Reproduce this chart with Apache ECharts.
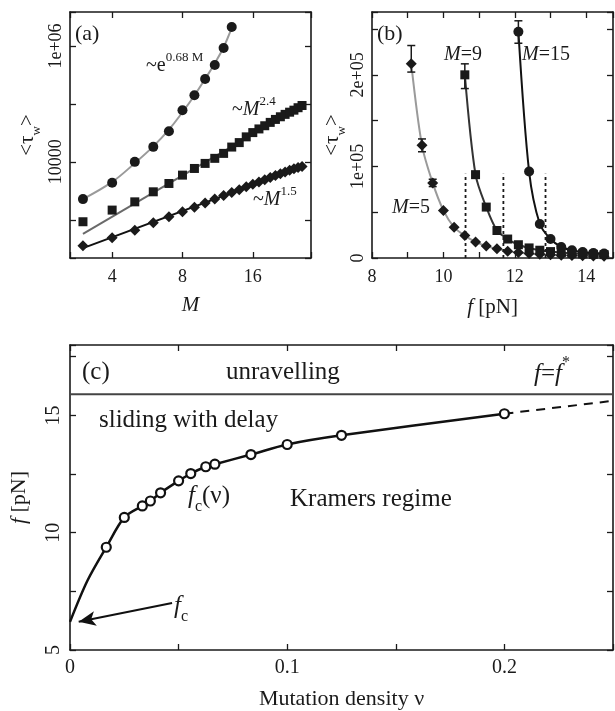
<!DOCTYPE html>
<html>
<head>
<meta charset="utf-8">
<script src="https://cdn.jsdelivr.net/npm/echarts@6/dist/echarts.min.js"></script>
<style>
  html, body { margin: 0; padding: 0; background: #fff; }
  #chart { width: 615px; height: 711px; }
</style>
</head>
<body>
<div id="chart"></div>
<script>
// ---- panel (a): <tau_w> vs M, log-log ----
const mCircle = [3, 4, 5, 6, 7, 8, 9, 10, 11, 12, 13];
const tauCircle = [2275, 4345, 10000, 18150, 33800, 77800, 141000, 270000, 470000, 925000, 2130000];
const mSquare = [3, 4, 5, 6, 7, 8, 9, 10, 11, 12, 13, 14, 15, 16, 17, 18, 19, 20, 21, 22, 23, 24, 25, 26];
const tauSquare = [925, 1470, 2040, 3040, 4235, 5900, 7690, 9400, 11500, 14000, 18000, 21500, 27000, 32000,
  37000, 42000, 48000, 54000, 60000, 66000, 72000, 78000, 86000, 94000];
const mDiamond = [3, 4, 5, 6, 7, 8, 9, 10, 11, 12, 13, 14, 15, 16, 17, 18, 19, 20, 21, 22, 23, 24, 25, 26];
const tauDiamond = [356, 490, 663, 887, 1130, 1375, 1650, 1950, 2280, 2620, 2950, 3300, 3700, 4100,
  4500, 4900, 5350, 5800, 6250, 6700, 7150, 7600, 8000, 8300];
// fit lines
const fitExpM = [3, 4, 5, 6, 7, 8, 9, 10, 11, 12, 13];
const fitExpTau = [2275, 4500, 9500, 18500, 36000, 72000, 140000, 270000, 500000, 950000, 2050000];
const fit24M = [3, 26];
const fit24Tau = [569, 94000];
const fit15M = [3, 26];
const fit15Tau = [325, 8300];

// ---- panel (b): <tau_w> vs f ----
const fM5 = [9.1, 9.4, 9.7, 10.0, 10.3, 10.6, 10.9, 11.2, 11.5, 11.8, 12.1, 12.4, 12.7, 13.0, 13.3, 13.6, 13.9, 14.2, 14.5];
const tauM5 = [212000, 123000, 82000, 52000, 33500, 24500, 17500, 13000, 10000, 7500, 6000, 5000, 4200, 3600, 3100, 2700, 2400, 2200, 2000];
const fM9 = [10.6, 10.9, 11.2, 11.5, 11.8, 12.1, 12.4, 12.7, 13.0, 13.3, 13.6, 13.9, 14.2, 14.5];
const tauM9 = [200000, 91000, 55600, 30000, 20700, 14500, 11000, 8500, 7000, 6000, 5000, 4500, 4000, 3700];
const fM15 = [12.1, 12.4, 12.7, 13.0, 13.3, 13.6, 13.9, 14.2, 14.5];
const tauM15 = [247000, 94400, 37100, 20700, 12000, 8500, 6500, 5500, 5000];
// error bars: [f, low, high]
const errM5 = [[9.1, 203000, 232000], [9.4, 116000, 130000], [9.7, 78000, 86000]];
const errM9 = [[10.6, 185000, 212000]];
const errM15 = [[12.1, 234500, 259000]];
const dottedF = [10.62, 11.68, 12.86];
const dottedTop = 92000;

// ---- panel (c): critical force vs mutation density ----
const nuPts = [0.0167, 0.025, 0.0333, 0.037, 0.0417, 0.05, 0.0556, 0.0625, 0.0667, 0.0833, 0.1, 0.125, 0.2];
const fcPts = [9.38, 10.65, 11.14, 11.35, 11.70, 12.21, 12.52, 12.81, 12.92, 13.33, 13.76, 14.15, 15.07];
const curveStartNu = [0, 0.008];
const curveStartF = [6.2, 7.95];
const dashNu = [0.2, 0.25];
const dashF = [15.07, 15.62];
const fStar = 15.9;
const arrowFrom = [0.047, 7.0];
const arrowTo = [0.004, 6.2];

const FONT = "'Liberation Serif', 'DejaVu Serif', serif";
const INK = '#1a1a1a';

const pairs = (xs, ys) => xs.map((x, i) => [x, ys[i]]);
const near = (a, b) => Math.abs(a - b) < 1e-6 * Math.max(1, Math.abs(b));

const chart = echarts.init(document.getElementById('chart'));

// rich styles must carry their own size, they do not inherit it;
// a tall line box lets sup/sub sit above/below the base text
const richFor = (size) => {
  const s = Math.round(size * 0.64);
  const lh = Math.round(size * 1.5);
  return {
    i: { fontStyle: 'italic', fontFamily: FONT, fontSize: size, lineHeight: lh, color: INK },
    sub: { fontSize: s, lineHeight: s, verticalAlign: 'bottom', fontFamily: FONT, color: INK },
    sup: { fontSize: s, lineHeight: s, verticalAlign: 'top', fontFamily: FONT, color: INK }
  };
};

const axisBase = (gridIndex, extra) => Object.assign({
  gridIndex,
  axisLine: { show: true, onZero: false, lineStyle: { color: INK, width: 1.6 } },
  axisTick: { show: true, inside: true, length: 6, lineStyle: { color: INK, width: 1.3 } },
  splitLine: { show: false },
  axisLabel: { color: INK, fontFamily: FONT, fontSize: 18 }
}, extra);

const mirror = (gridIndex, extra) => axisBase(gridIndex, Object.assign({ axisLabel: { show: false } }, extra));

const nameStyle = (size) => ({
  color: INK, fontFamily: FONT, fontSize: size,
  lineHeight: Math.round(size * 1.5), rich: richFor(size)
});

const errSeries = (data, xi, yi) => ({
  type: 'custom',
  xAxisIndex: xi, yAxisIndex: yi,
  data,
  z: 3,
  renderItem: (params, api) => {
    const x = api.value(0);
    const p1 = api.coord([x, api.value(1)]);
    const p2 = api.coord([x, api.value(2)]);
    const w = 4;
    const st = { stroke: INK, lineWidth: 1.5 };
    return {
      type: 'group',
      children: [
        { type: 'line', shape: { x1: p1[0], y1: p1[1], x2: p2[0], y2: p2[1] }, style: st },
        { type: 'line', shape: { x1: p1[0] - w, y1: p1[1], x2: p1[0] + w, y2: p1[1] }, style: st },
        { type: 'line', shape: { x1: p2[0] - w, y1: p2[1], x2: p2[0] + w, y2: p2[1] }, style: st }
      ]
    };
  }
});

const markers = (data, symbol, size, xi, yi, extra) => Object.assign({
  type: 'scatter', xAxisIndex: xi, yAxisIndex: yi, data, symbol, symbolSize: size,
  itemStyle: { color: INK, opacity: 1 }, z: 4
}, extra);

const line = (data, color, width, xi, yi, extra) => Object.assign({
  type: 'line', xAxisIndex: xi, yAxisIndex: yi, data, showSymbol: false, symbol: 'none',
  lineStyle: { color, width }, z: 2
}, extra);

const text = (left, top, str, size) => ({
  type: 'text', left, top,
  style: { text: str, fill: INK, font: size + 'px ' + FONT, lineHeight: Math.round(size * 1.5), rich: richFor(size) }
});

const option = {
  animation: false,
  backgroundColor: '#fff',
  grid: [
    { left: 70, top: 12, width: 241, height: 246, outerBoundsMode: 'none', containLabel: false },
    { left: 372, top: 12, width: 241, height: 246, outerBoundsMode: 'none', containLabel: false },
    { left: 70, top: 345, width: 543, height: 305, outerBoundsMode: 'none', containLabel: false }
  ],
  xAxis: [
    axisBase(0, {
      type: 'log', logBase: 2, min: 2.64, max: 28.4,
      axisLabel: { color: INK, fontFamily: FONT, fontSize: 18, margin: 10,
        formatter: v => ([4, 8, 16].some(t => near(v, t)) ? String(Math.round(v)) : '') },
      name: 'M', nameLocation: 'middle', nameGap: 37,
      nameTextStyle: { color: INK, fontFamily: FONT, fontSize: 21, fontStyle: 'italic' }
    }),
    mirror(0, { type: 'log', logBase: 2, min: 2.64, max: 28.4, position: 'top' }),
    axisBase(1, {
      type: 'value', min: 8, max: 14.75, interval: 1,
      axisLabel: { color: INK, fontFamily: FONT, fontSize: 18, margin: 10,
        formatter: v => (Math.round(v) % 2 === 0 ? String(v) : '') },
      name: '{i|f} [pN]', nameLocation: 'middle', nameGap: 33,
      nameTextStyle: nameStyle(21)
    }),
    mirror(1, { type: 'value', min: 8, max: 14.75, interval: 1, position: 'top' }),
    axisBase(2, {
      type: 'value', min: 0, max: 0.25, interval: 0.05,
      axisLabel: { color: INK, fontFamily: FONT, fontSize: 20, margin: 8,
        formatter: v => (near(v, 0) ? '0' : near(v, 0.1) ? '0.1' : near(v, 0.2) ? '0.2' : '') },
      name: 'Mutation density ν', nameLocation: 'middle', nameGap: 38,
      nameTextStyle: { color: INK, fontFamily: FONT, fontSize: 22 }
    }),
    mirror(2, { type: 'value', min: 0, max: 0.25, interval: 0.05, position: 'top' })
  ],
  yAxis: [
    axisBase(0, {
      type: 'log', min: 219, max: 3860000,
      axisLabel: { color: INK, fontFamily: FONT, fontSize: 18, rotate: 90, margin: 5,
        formatter: v => (near(v, 10000) ? '10000' : near(v, 1e6) ? '1e+06' : '') },
      name: '<τ{sub|w}>', nameLocation: 'middle', nameGap: 27, nameRotate: 90,
      nameTextStyle: nameStyle(21)
    }),
    mirror(0, { type: 'log', min: 219, max: 3860000, position: 'right' }),
    axisBase(1, {
      type: 'value', min: 0, max: 268600, interval: 50000,
      axisLabel: { color: INK, fontFamily: FONT, fontSize: 18, rotate: 90, margin: 5,
        formatter: v => (v === 0 ? '0' : v % 100000 === 0 ? (v / 100000) + 'e+05' : '') },
      name: '<τ{sub|w}>', nameLocation: 'middle', nameGap: 17, nameRotate: 90,
      nameTextStyle: nameStyle(21)
    }),
    mirror(1, { type: 'value', min: 0, max: 268600, interval: 50000, position: 'right' }),
    axisBase(2, {
      type: 'value', min: 5, max: 18, interval: 2.5,
      axisLabel: { color: INK, fontFamily: FONT, fontSize: 20, rotate: 90, margin: 6,
        formatter: v => (v % 5 === 0 ? String(v) : '') },
      name: '{i|f} [pN]', nameLocation: 'middle', nameGap: 33, nameRotate: 90,
      nameTextStyle: nameStyle(22)
    }),
    mirror(2, { type: 'value', min: 5, max: 18, interval: 2.5, position: 'right' })
  ],
  series: [
    // (a)
    line(pairs(fitExpM, fitExpTau), '#9a9a9a', 2, 0, 0, { smooth: 0.4 }),
    line(pairs(fit24M, fit24Tau), '#6a6a6a', 2, 0, 0),
    line(pairs(fit15M, fit15Tau), '#111', 2, 0, 0),
    markers(pairs(mCircle, tauCircle), 'circle', 10, 0, 0),
    markers(pairs(mSquare, tauSquare), 'rect', 9, 0, 0),
    markers(pairs(mDiamond, tauDiamond), 'diamond', 11, 0, 0),
    // (b)
    line(pairs(fM5, tauM5), '#9a9a9a', 2, 2, 2, { smooth: 0.3 }),
    line(pairs(fM9, tauM9), '#333', 2, 2, 2, { smooth: 0.3 }),
    line(pairs(fM15, tauM15), '#111', 2, 2, 2, { smooth: 0.3 }),
    ...dottedF.map(f => line([[f, 0], [f, dottedTop]], INK, 1.8, 2, 2,
      { lineStyle: { color: INK, width: 1.8, type: [3, 3] } })),
    errSeries(errM5, 2, 2),
    errSeries(errM9, 2, 2),
    errSeries(errM15, 2, 2),
    markers(pairs(fM5, tauM5), 'diamond', 11, 2, 2),
    markers(pairs(fM9, tauM9), 'rect', 9, 2, 2),
    markers(pairs(fM15, tauM15), 'circle', 10, 2, 2),
    // (c)
    line([[0, fStar], [0.25, fStar]], '#444', 2, 4, 4),
    line(pairs(curveStartNu.concat(nuPts), curveStartF.concat(fcPts)), '#111', 2.5, 4, 4, {
      smooth: 0.3,
      markLine: {
        silent: true, symbol: ['none', 'arrow'], symbolSize: [11, 17],
        lineStyle: { color: '#111', width: 2, type: 'solid' },
        label: { show: false },
        data: [[{ coord: arrowFrom }, { coord: arrowTo }]]
      }
    }),
    line(pairs(dashNu, dashF), '#111', 2, 4, 4, { lineStyle: { color: '#111', width: 2, type: [9, 7] } }),
    markers(pairs(nuPts, fcPts), 'circle', 9, 4, 4, {
      itemStyle: { color: '#fff', borderColor: '#111', borderWidth: 2.2, opacity: 1 }
    })
  ],
  graphic: [
    text(75, 18, '(a)', 22),
    text(146, 51, '~e{sup|0.68 M}', 20),
    text(232, 95, '~{i|M}{sup|2.4}', 20),
    text(253, 185, '~{i|M}{sup|1.5}', 20),
    text(377, 18, '(b)', 22),
    text(444, 40, '{i|M}=9', 20),
    text(522, 40, '{i|M}=15', 20),
    text(392, 193, '{i|M}=5', 20),
    text(82, 353, '(c)', 25),
    text(226, 353, 'unravelling', 25),
    text(534, 355, '{i|f}={i|f}{sup|*}', 25),
    text(99, 401, 'sliding with delay', 25),
    text(188, 477, '{i|f}{sub|c}(ν)', 25),
    text(290, 480, 'Kramers regime', 25),
    text(174, 587, '{i|f}{sub|c}', 25)
  ]
};

chart.setOption(option);
</script>
</body>
</html>
